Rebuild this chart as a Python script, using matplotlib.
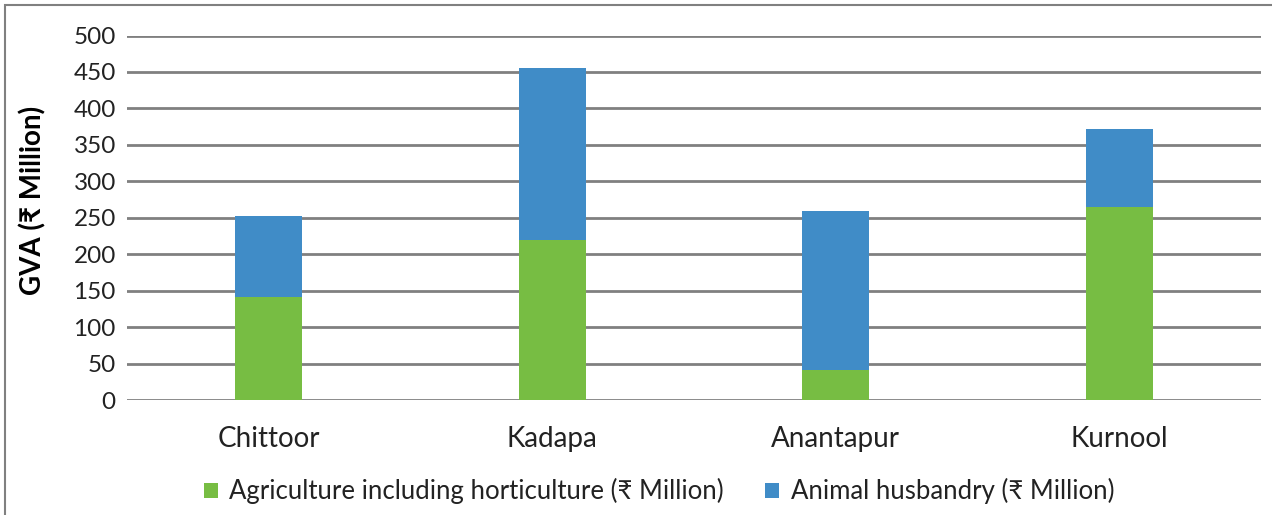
import matplotlib.pyplot as plt
from matplotlib.patches import Rectangle

# District-wise GVA split (Rs million)
districts = ['Chittoor', 'Kadapa', 'Anantapur', 'Kurnool']
agriculture = [141, 219, 41, 265]
animal_husbandry = [112, 237, 218, 107]

green = '#77bd43'
blue = '#408cc7'

plt.rcParams['font.family'] = ['Lato', 'DejaVu Sans']

fig = plt.figure(figsize=(12.72, 5.15), dpi=100)
ax = fig.add_axes([0.0998, 0.2233, 0.8916, 0.7077])

x = range(len(districts))
ax.bar(x, agriculture, width=0.236, color=green, label='Agriculture including horticulture (₹ Million)', zorder=3)
ax.bar(x, animal_husbandry, width=0.236, bottom=agriculture, color=blue,
       label='Animal husbandry (₹ Million)', zorder=3)

ax.set_xlim(-0.5, 3.5)
ax.set_ylim(0, 500)
ax.set_yticks(range(0, 501, 50))
ax.yaxis.grid(True, color='#808080', linewidth=2, zorder=0)
ax.set_axisbelow(True)
for s in ax.spines.values():
    s.set_visible(False)
ax.tick_params(axis='y', length=0, labelsize=17.5, colors='#222222', pad=8)
ax.tick_params(axis='x', length=0, labelsize=20, colors='#222222', pad=19)
ax.set_xticks(list(x))
ax.set_xticklabels(districts)
ax.set_ylabel('GVA (₹ Million)', fontsize=20, fontweight='bold', va='center')
ax.yaxis.set_label_coords(-0.083, 0.548)

fig.legend(loc='center', bbox_to_anchor=(0.518, 0.046), ncol=2, frameon=False,
           fontsize=18.5, handlelength=0.55, handleheight=0.55, handletextpad=0.45,
           columnspacing=1.6, labelcolor='#222222')

# thin frame around the chart area
fig.patches.append(Rectangle((0.004, -0.01), 1.1, 1.0, transform=fig.transFigure,
                             fill=False, edgecolor='#808080', linewidth=1.5))

fig.savefig('out.png', dpi=100)
